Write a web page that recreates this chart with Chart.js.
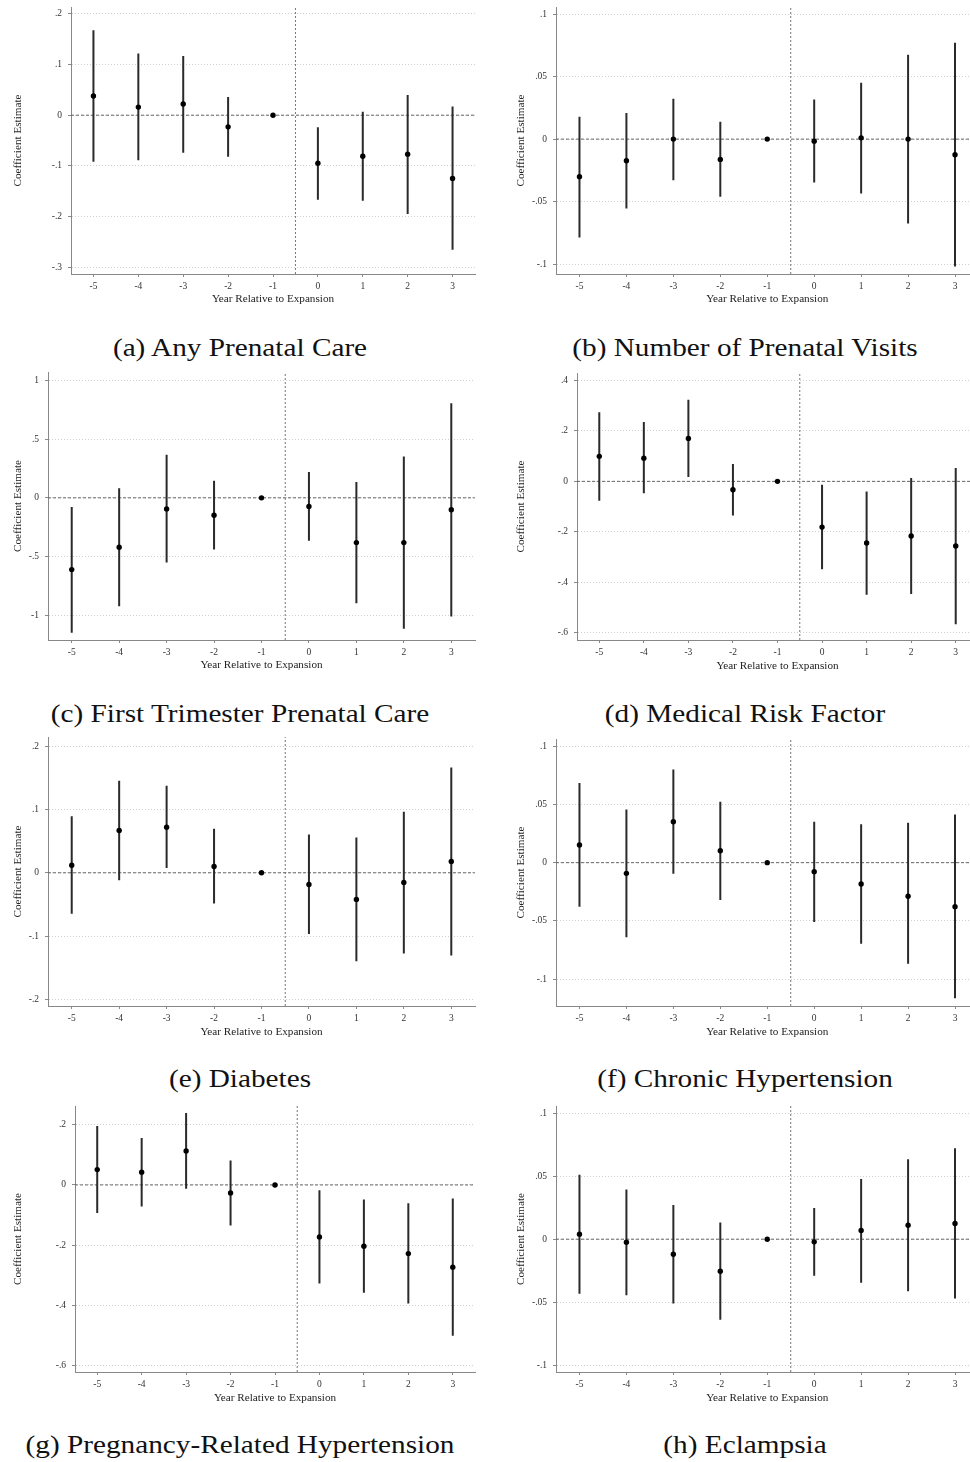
<!DOCTYPE html>
<html>
<head>
<meta charset="utf-8">
<title>Event study estimates</title>
<script src="https://cdn.jsdelivr.net/npm/chart.js@4.4.1/dist/chart.umd.min.js"></script>
<style>
  html, body { margin: 0; padding: 0; background: #fff; }
  body { width: 970px; height: 1462px; position: relative; overflow: hidden; }
  .panel { position: absolute; }
  .cap {
    position: absolute; width: 480px; text-align: center;
    font-family: "Liberation Serif", serif; font-size: 25px; line-height: 24px;
    color: #111; white-space: nowrap; transform: scaleX(1.17);
  }
</style>
</head>
<body>
<script>
// x categories shared by every panel
const years = [-5, -4, -3, -2, -1, 0, 1, 2, 3];

const captions = [
  '(a) Any Prenatal Care',
  '(b) Number of Prenatal Visits',
  '(c) First Trimester Prenatal Care',
  '(d) Medical Risk Factor',
  '(e) Diabetes',
  '(f) Chronic Hypertension',
  '(g) Pregnancy-Related Hypertension',
  '(h) Eclampsia'
];

// (a) Any Prenatal Care
const estA = [0.038, 0.016, 0.022, -0.023, 0, -0.095, -0.081, -0.077, -0.125];
const hiA  = [0.168, 0.122, 0.117, 0.036, 0, -0.024, 0.007, 0.040, 0.017];
const loA  = [-0.092, -0.089, -0.074, -0.082, 0, -0.167, -0.169, -0.195, -0.266];
const ticksA = [-0.3, -0.2, -0.1, 0, 0.1, 0.2];

// (b) Number of Prenatal Visits
const estB = [-0.030, -0.0173, 0.0, -0.0162, 0, -0.0016, 0.001, 0.0, -0.0125];
const hiB  = [0.0178, 0.0208, 0.0322, 0.0139, 0, 0.0317, 0.045, 0.0674, 0.077];
const loB  = [-0.0786, -0.0554, -0.0328, -0.046, 0, -0.0346, -0.0434, -0.0674, -0.1018];
const ticksB = [-0.1, -0.05, 0, 0.05, 0.1];

// (c) First Trimester Prenatal Care
const estC = [-0.611, -0.42, -0.094, -0.148, 0, -0.074, -0.381, -0.381, -0.102];
const hiC  = [-0.077, 0.082, 0.366, 0.145, 0, 0.219, 0.134, 0.352, 0.804];
const loC  = [-1.148, -0.923, -0.551, -0.44, 0, -0.366, -0.898, -1.114, -1.011];
const ticksC = [-1, -0.5, 0, 0.5, 1];

// (d) Medical Risk Factor
const estD = [0.099, 0.092, 0.170, -0.033, 0, -0.181, -0.244, -0.216, -0.256];
const hiD  = [0.274, 0.235, 0.323, 0.069, 0, -0.013, -0.04, 0.013, 0.053];
const loD  = [-0.0765, -0.047, 0.017, -0.135, 0, -0.348, -0.449, -0.446, -0.566];
const ticksD = [-0.6, -0.4, -0.2, 0, 0.2, 0.4];

// (e) Diabetes
const estE = [0.012, 0.0669, 0.0722, 0.010, 0, -0.0184, -0.0421, -0.0153, 0.0179];
const hiE  = [0.0896, 0.1454, 0.1375, 0.0695, 0, 0.0606, 0.0558, 0.0964, 0.1665];
const loE  = [-0.0648, -0.0116, 0.0074, -0.0485, 0, -0.0969, -0.140, -0.1275, -0.1307];
const ticksE = [-0.2, -0.1, 0, 0.1, 0.2];

// (f) Chronic Hypertension
const estF = [0.0152, -0.0092, 0.0352, 0.0103, 0, -0.0077, -0.0183, -0.0289, -0.0378];
const hiF  = [0.0685, 0.0456, 0.080, 0.0524, 0, 0.0352, 0.033, 0.0344, 0.0413];
const loF  = [-0.0378, -0.0642, -0.0095, -0.0321, 0, -0.051, -0.0696, -0.0868, -0.1166];
const ticksF = [-0.1, -0.05, 0, 0.05, 0.1];

// (g) Pregnancy-Related Hypertension
const estG = [0.0509, 0.042, 0.113, -0.0265, 0, -0.1726, -0.2035, -0.228, -0.273];
const hiG  = [0.196, 0.156, 0.239, 0.081, 0, -0.0177, -0.0487, -0.0608, -0.0454];
const loG  = [-0.093, -0.072, -0.013, -0.135, 0, -0.327, -0.358, -0.394, -0.501];
const ticksG = [-0.6, -0.4, -0.2, 0, 0.2];

// (h) Eclampsia
const estH = [0.004, -0.0024, -0.0119, -0.0254, 0, -0.0021, 0.0069, 0.0111, 0.0124];
const hiH  = [0.051, 0.0393, 0.0272, 0.0132, 0, 0.0248, 0.0478, 0.0634, 0.0721];
const loH  = [-0.0433, -0.0444, -0.0510, -0.0639, 0, -0.029, -0.0346, -0.0412, -0.047];
const ticksH = [-0.1, -0.05, 0, 0.05, 0.1];

const panels = [
  {est: estA, lo: loA, hi: hiA, ticks: ticksA},
  {est: estB, lo: loB, hi: hiB, ticks: ticksB},
  {est: estC, lo: loC, hi: hiC, ticks: ticksC},
  {est: estD, lo: loD, hi: hiD, ticks: ticksD},
  {est: estE, lo: loE, hi: hiE, ticks: ticksE},
  {est: estF, lo: loF, hi: hiF, ticks: ticksF},
  {est: estG, lo: loG, hi: hiG, ticks: ticksG},
  {est: estH, lo: loH, hi: hiH, ticks: ticksH}
];

// placement of each canvas, widths of the axis boxes and y range
const layout = [
  {left: 0,   top: 0,    w: 480, h: 306, padL: 11, padT: 7,  padR: 5,   yW: 60, xH: 32, yMin: -0.3138, yMax: 0.2138, capTop: 336},
  {left: 485, top: 0,    w: 500, h: 306, padL: 29, padT: 7,  padR: 6.5, yW: 42, xH: 32, yMin: -0.1078, yMax: 0.1056, capTop: 336},
  {left: 0,   top: 365,  w: 480, h: 307, padL: 11, padT: 7,  padR: 5,   yW: 37, xH: 32, yMin: -1.21,   yMax: 1.071,  capTop: 702},
  {left: 485, top: 365,  w: 500, h: 308, padL: 29, padT: 8,  padR: 7,   yW: 63, xH: 33, yMin: -0.628,  yMax: 0.429,  capTop: 702},
  {left: 0,   top: 730,  w: 480, h: 309, padL: 11, padT: 7,  padR: 5,   yW: 37, xH: 33, yMin: -0.2106, yMax: 0.2147, capTop: 1067},
  {left: 485, top: 730,  w: 500, h: 309, padL: 29, padT: 9,  padR: 6.5, yW: 42, xH: 33, yMin: -0.1232, yMax: 0.1063, capTop: 1067},
  {left: 0,   top: 1095, w: 480, h: 310, padL: 11, padT: 11, padR: 5,   yW: 64, xH: 33, yMin: -0.621,  yMax: 0.262,  capTop: 1433},
  {left: 485, top: 1095, w: 500, h: 310, padL: 29, padT: 11, padR: 6.5, yW: 42, xH: 33, yMin: -0.1053, yMax: 0.1056, capTop: 1433}
];

// Stata style labels: .2, -.05, 0, 1
function stataLabel(v) {
  const s = String(Math.round(v * 1000) / 1000);
  return s.replace(/^(-?)0\./, '$1.');
}

const tickFont = {family: 'Liberation Serif', size: 9.5};
const titleFont = {family: 'Liberation Serif', size: 11.2};

panels.forEach((p, i) => {
  const L = layout[i];

  const div = document.createElement('div');
  div.className = 'panel';
  div.style.left = L.left + 'px';
  div.style.top = L.top + 'px';
  const cv = document.createElement('canvas');
  cv.width = L.w;
  cv.height = L.h;
  cv.style.width = L.w + 'px';
  cv.style.height = L.h + 'px';
  div.appendChild(cv);
  document.body.appendChild(div);

  const cap = document.createElement('div');
  cap.className = 'cap';
  cap.style.left = (i % 2 === 0 ? 0 : 505) + 'px';
  cap.style.top = L.capTop + 'px';
  cap.textContent = captions[i];
  document.body.appendChild(cap);

  // confidence intervals as broken line segments
  const ciData = [];
  years.forEach((x, k) => {
    ciData.push({x: x, y: p.lo[k]}, {x: x, y: p.hi[k]}, {x: x, y: null});
  });

  new Chart(cv, {
    type: 'line',
    data: {
      datasets: [
        {
          data: years.map((x, k) => ({x: x, y: p.est[k]})),
          showLine: false,
          pointRadius: 2.7,
          pointHoverRadius: 2.7,
          pointBorderWidth: 0,
          pointBackgroundColor: '#000'
        },
        {
          data: ciData,
          borderColor: '#2a2a2a',
          borderWidth: 2,
          pointRadius: 0,
          spanGaps: false
        },
        {
          data: [{x: -5.5, y: 0}, {x: 3.5, y: 0}],
          borderColor: '#666',
          borderWidth: 1,
          borderDash: [3, 2],
          pointRadius: 0
        },
        {
          data: [{x: -0.5, y: L.yMin}, {x: -0.5, y: L.yMax}],
          borderColor: '#777',
          borderWidth: 1,
          borderDash: [2, 2],
          pointRadius: 0
        }
      ]
    },
    options: {
      responsive: false,
      animation: false,
      events: [],
      layout: {padding: {left: L.padL, top: L.padT, right: L.padR, bottom: 0}},
      plugins: {
        legend: {display: false},
        tooltip: {enabled: false}
      },
      scales: {
        x: {
          type: 'linear',
          min: -5.5,
          max: 3.5,
          offset: false,
          afterBuildTicks: s => { s.ticks = years.map(v => ({value: v})); },
          afterFit: s => { s.height = L.xH; s.paddingLeft = 0; s.paddingRight = 0; },
          ticks: {autoSkip: false, maxRotation: 0, padding: 4, color: '#333', font: tickFont,
                  callback: v => stataLabel(v)},
          grid: {drawOnChartArea: false, drawTicks: true, tickLength: 3, tickColor: '#888', offset: false},
          border: {display: true, color: '#888', width: 1},
          title: {display: true, text: 'Year Relative to Expansion', color: '#222', font: titleFont, padding: 0}
        },
        y: {
          type: 'linear',
          min: L.yMin,
          max: L.yMax,
          afterBuildTicks: s => { s.ticks = p.ticks.map(v => ({value: v})); },
          afterFit: s => { s.width = L.yW; s.paddingTop = 0; s.paddingBottom = 0; },
          ticks: {autoSkip: false, padding: 6, color: '#333', font: tickFont,
                  callback: v => stataLabel(v)},
          grid: {color: '#cfcfcf', lineWidth: 1, drawTicks: true, tickLength: 3, tickColor: '#888'},
          border: {display: true, color: '#888', width: 1, dash: [1, 2]},
          title: {display: true, text: 'Coefficient Estimate', color: '#222', font: titleFont, padding: 0}
        }
      }
    }
  });
});
</script>
</body>
</html>
